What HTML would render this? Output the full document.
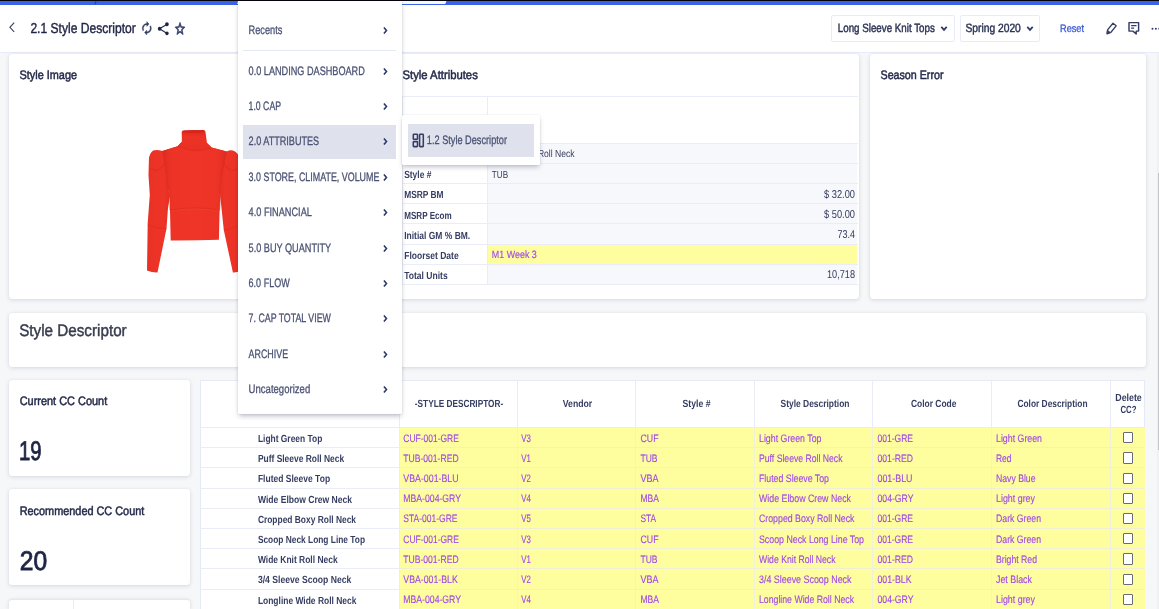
<!DOCTYPE html>
<html><head><meta charset="utf-8"><title>2.1 Style Descriptor</title>
<style>
html,body{margin:0;padding:0}
html{width:1159px;height:609px;overflow:hidden}
body{width:1159px;height:609px;overflow:hidden;position:relative;background:#f6f7f9;font-family:"Liberation Sans",sans-serif;text-rendering:geometricPrecision;}
body>div,body>svg{position:absolute;box-sizing:border-box}
svg.tx{left:0;top:0;pointer-events:none;will-change:transform;font-family:"Liberation Sans",sans-serif;text-rendering:geometricPrecision}
.card{background:#fff;border-radius:3px;box-shadow:0 1px 4px rgba(40,45,70,.15),0 0 1px rgba(40,45,70,.12)}
</style></head><body>
<div style="left:0px;top:0px;width:1159px;height:4.8px;background:#3a63e6"></div>
<div style="left:0px;top:0px;width:1159px;height:0.9px;background:#04050c"></div>
<svg style="left:93px;top:0" width="5" height="5" viewBox="0 0 5 5"><path d="M3.2 0.6 L2 4.4" stroke="#1a2350" stroke-width=".6"/></svg>
<div style="left:0px;top:4.8px;width:1159px;height:48.2px;background:#fff;border-bottom:1px solid #e9ebf8"></div>
<svg style="left:7px;top:20px" width="10" height="14" viewBox="0 0 10 14"><path d="M7.2 2.7 L2.9 7.3 L7.2 11.9" fill="none" stroke="#3a4164" stroke-width="1.1"/></svg>
<svg class="tx" width="1159" height="609" viewBox="0 0 1159 609"><text x="30.40" y="33.00" font-size="14.5" fill="#1e2444" textLength="105.40" lengthAdjust="spacingAndGlyphs" stroke="#1e2444" stroke-width="0.42">2.1 Style Descriptor</text></svg>
<svg style="left:140.1px;top:21.2px" width="13.6" height="14.6" viewBox="0 0 24 24" preserveAspectRatio="none"><path fill="#323b64" stroke="#323b64" stroke-width=".6" d="M12 6v3l4-4-4-4v3c-4.42 0-8 3.58-8 8 0 1.57.46 3.03 1.24 4.26L6.7 14.8c-.45-.83-.7-1.79-.7-2.8 0-3.31 2.69-6 6-6zm6.76 1.74L17.3 9.2c.44.84.7 1.79.7 2.8 0 3.31-2.69 6-6 6v-3l-4 4 4 4v-3c4.42 0 8-3.58 8-8 0-1.57-.46-3.03-1.24-4.26z"/></svg>
<svg style="left:156.2px;top:20.7px" width="14.6" height="15.6" viewBox="0 0 24 24" preserveAspectRatio="none"><path fill="#1e2444" d="M18 16.08c-.76 0-1.44.3-1.96.77L8.91 12.7c.05-.23.09-.46.09-.7s-.04-.47-.09-.7l7.05-4.11c.54.5 1.25.81 2.04.81 1.66 0 3-1.34 3-3s-1.34-3-3-3-3 1.34-3 3c0 .24.04.47.09.7L8.04 9.81C7.5 9.31 6.79 9 6 9c-1.66 0-3 1.34-3 3s1.34 3 3 3c.79 0 1.5-.31 2.04-.81l7.12 4.16c-.05.21-.08.43-.08.65 0 1.61 1.31 2.92 2.92 2.92 1.61 0 2.92-1.31 2.92-2.92s-1.31-2.92-2.92-2.92z"/></svg>
<svg style="left:174px;top:21.1px" width="12" height="15.6" viewBox="0 0 24 24" preserveAspectRatio="none"><path fill="#323b64" stroke="#323b64" stroke-width="1.1" d="M22 9.24l-7.19-.62L12 2 9.19 8.63 2 9.24l5.46 4.73L5.82 21 12 17.27 18.18 21l-1.63-7.03L22 9.24zM12 15.4l-3.76 2.27 1-4.28-3.32-2.88 4.38-.38L12 6.1l1.71 4.04 4.38.38-3.32 2.88 1 4.28L12 15.4z"/></svg>
<div style="left:831px;top:15.2px;width:123.5px;height:26.5px;background:#fff;border:1px solid #e9ecf8;border-radius:2px"></div>
<svg class="tx" width="1159" height="609" viewBox="0 0 1159 609"><text x="837.80" y="32.00" font-size="12" fill="#2c3355" textLength="97.00" lengthAdjust="spacingAndGlyphs" stroke="#2c3355" stroke-width="0.45">Long Sleeve Knit Tops</text></svg>
<svg style="left:940.4px;top:25.4px" width="8" height="7" viewBox="0 0 8 7"><path d="M1.3 1.9 L4 4.9 L6.7 1.9" fill="none" stroke="#2e3868" stroke-width="1.7"/></svg>
<div style="left:960.4px;top:15.2px;width:79.6px;height:26.5px;background:#fff;border:1px solid #e9ecf8;border-radius:2px"></div>
<svg class="tx" width="1159" height="609" viewBox="0 0 1159 609"><text x="965.50" y="32.00" font-size="12" fill="#2c3355" textLength="55.30" lengthAdjust="spacingAndGlyphs" stroke="#2c3355" stroke-width="0.45">Spring 2020</text></svg>
<svg style="left:1025.6px;top:25.4px" width="8" height="7" viewBox="0 0 8 7"><path d="M1.3 1.9 L4 4.9 L6.7 1.9" fill="none" stroke="#2e3868" stroke-width="1.7"/></svg>
<svg class="tx" width="1159" height="609" viewBox="0 0 1159 609"><text x="1060.00" y="32.00" font-size="10.8" fill="#3d5bd9" textLength="24.00" lengthAdjust="spacingAndGlyphs" stroke="#3d5bd9" stroke-width="0.35">Reset</text></svg>
<svg style="left:1104px;top:21px" width="14" height="16" viewBox="0 0 14 16"><g transform="translate(7.1,7.8) rotate(39)" fill="none" stroke="#333c66" stroke-width="1.3" stroke-linejoin="round"><path d="M-2.05,-5.5 H2.05 V3.1 L0,6.5 L-2.05,3.1 Z"/><path d="M-1.8,3.4 L0,6.4 L1.8,3.4 Z" fill="#333c66" stroke-width=".7"/></g></svg>
<svg style="left:1127px;top:21px" width="14" height="15" viewBox="0 0 14 15"><path d="M2.0 1.6 H11.6 V10.1 H9.2 V13.0 L5.9 10.1 H2.0 Z" fill="none" stroke="#333c66" stroke-width="1.45" stroke-linejoin="round"/><path d="M4.1 4.7 H9.5 M4.1 7.2 H7.1" stroke="#333c66" stroke-width="1.25"/></svg>
<svg style="left:1150px;top:26px" width="9" height="6" viewBox="0 0 9 6"><circle cx="2.5" cy="2.7" r="1" fill="#333c66"/><circle cx="5.9" cy="2.7" r="1" fill="#333c66"/><circle cx="9.3" cy="2.7" r="1" fill="#333c66"/></svg>
<div class="card" style="left:9px;top:53.8px;width:376px;height:245.2px;"></div>
<svg class="tx" width="1159" height="609" viewBox="0 0 1159 609"><text x="19.50" y="78.80" font-size="12.3" fill="#242a49" textLength="57.50" lengthAdjust="spacingAndGlyphs" stroke="#242a49" stroke-width="0.5">Style Image</text></svg>
<div class="card" style="left:392px;top:53.8px;width:467px;height:245.2px;"></div>
<svg class="tx" width="1159" height="609" viewBox="0 0 1159 609"><text x="402.50" y="79.00" font-size="12.3" fill="#242a49" textLength="75.30" lengthAdjust="spacingAndGlyphs" stroke="#242a49" stroke-width="0.5">Style Attributes</text></svg>
<div class="card" style="left:870px;top:53.8px;width:276px;height:245.2px;"></div>
<svg class="tx" width="1159" height="609" viewBox="0 0 1159 609"><text x="880.50" y="78.80" font-size="12.3" fill="#242a49" textLength="63.00" lengthAdjust="spacingAndGlyphs" stroke="#242a49" stroke-width="0.5">Season Error</text></svg>
<div style="left:1157.2px;top:53px;width:1.8px;height:556px;background:#f0f1f3"></div>
<div style="left:1157.6px;top:173px;width:1.4px;height:277px;background:#c4c5c9"></div>
<div style="left:487.6px;top:143.4px;width:369.9px;height:141.1px;background:#f7f8fc"></div>
<div style="left:487.6px;top:244.1px;width:369.9px;height:20.299999999999983px;background:#fffe9e"></div>
<div style="left:402px;top:95.7px;width:455.5px;height:1px;background:#eaedf8"></div>
<div style="left:402px;top:142.9px;width:455.5px;height:1px;background:#eaedf8"></div>
<div style="left:402px;top:162.9px;width:455.5px;height:1px;background:#eaedf8"></div>
<div style="left:402px;top:183.0px;width:455.5px;height:1px;background:#eaedf8"></div>
<div style="left:402px;top:203.3px;width:455.5px;height:1px;background:#eaedf8"></div>
<div style="left:402px;top:223.4px;width:455.5px;height:1px;background:#eaedf8"></div>
<div style="left:402px;top:243.6px;width:455.5px;height:1px;background:#eaedf8"></div>
<div style="left:402px;top:263.9px;width:455.5px;height:1px;background:#eaedf8"></div>
<div style="left:402px;top:284.0px;width:455.5px;height:1px;background:#eaedf8"></div>
<div style="left:487.1px;top:96.2px;width:1px;height:188.3px;background:#eaedf8"></div>
<div style="left:401.5px;top:96.2px;width:1px;height:188.3px;background:#f0f2fa"></div>
<svg class="tx" width="1159" height="609" viewBox="0 0 1159 609"><text x="404.20" y="158.20" font-size="10.3" fill="#353d62" textLength="62.00" lengthAdjust="spacingAndGlyphs" font-weight="700">Style Description</text><text x="404.20" y="178.20" font-size="10.3" fill="#353d62" textLength="27.20" lengthAdjust="spacingAndGlyphs" font-weight="700">Style #</text><text x="404.20" y="198.30" font-size="10.3" fill="#353d62" textLength="39.40" lengthAdjust="spacingAndGlyphs" font-weight="700">MSRP BM</text><text x="404.20" y="218.60" font-size="10.3" fill="#353d62" textLength="47.50" lengthAdjust="spacingAndGlyphs" font-weight="700">MSRP Ecom</text><text x="404.20" y="238.70" font-size="10.3" fill="#353d62" textLength="66.00" lengthAdjust="spacingAndGlyphs" font-weight="700">Initial GM % BM.</text><text x="404.20" y="258.90" font-size="10.3" fill="#353d62" textLength="54.50" lengthAdjust="spacingAndGlyphs" font-weight="700">Floorset Date</text><text x="404.20" y="279.20" font-size="10.3" fill="#353d62" textLength="43.50" lengthAdjust="spacingAndGlyphs" font-weight="700">Total Units</text><text x="491.80" y="157.40" font-size="10.3" fill="#343b5c" textLength="82.80" lengthAdjust="spacingAndGlyphs">Puff Sleeve Roll Neck</text><text x="491.80" y="177.60" font-size="10.3" fill="#343b5c" textLength="16.30" lengthAdjust="spacingAndGlyphs">TUB</text><text x="824.00" y="197.60" font-size="11.4" fill="#343b5c" textLength="31.00" lengthAdjust="spacingAndGlyphs">$ 32.00</text><text x="824.00" y="217.60" font-size="11.4" fill="#343b5c" textLength="31.00" lengthAdjust="spacingAndGlyphs">$ 50.00</text><text x="837.50" y="237.80" font-size="11.4" fill="#343b5c" textLength="17.50" lengthAdjust="spacingAndGlyphs">73.4</text><text x="491.80" y="258.00" font-size="10.6" fill="#a049e8" textLength="45.00" lengthAdjust="spacingAndGlyphs" stroke="#a049e8" stroke-width="0.15">M1 Week 3</text><text x="827.00" y="278.20" font-size="11.4" fill="#343b5c" textLength="28.00" lengthAdjust="spacingAndGlyphs">10,718</text></svg>
<svg style="left:140px;top:125px" width="110" height="155" viewBox="140 125 110 155"><defs><linearGradient id="gb" x1="0" x2="1" y1="0" y2="0"><stop offset="0" stop-color="#e02a20"/><stop offset=".14" stop-color="#ec3326"/><stop offset=".5" stop-color="#ee3528"/><stop offset=".86" stop-color="#ec3326"/><stop offset="1" stop-color="#e02a20"/></linearGradient><linearGradient id="gs" x1="0" x2="1" y1="0" y2="0"><stop offset="0" stop-color="#ea3125"/><stop offset=".55" stop-color="#ed3427"/><stop offset="1" stop-color="#db281e"/></linearGradient><linearGradient id="gs2" x1="1" x2="0" y1="0" y2="0"><stop offset="0" stop-color="#ea3125"/><stop offset=".55" stop-color="#ed3427"/><stop offset="1" stop-color="#db281e"/></linearGradient><linearGradient id="gn" x1="0" x2="0" y1="0" y2="1"><stop offset="0" stop-color="#de271e"/><stop offset=".35" stop-color="#ec3326"/><stop offset="1" stop-color="#e93024"/></linearGradient></defs><path d="M177.5,146.3 L162.3,150.9 Q157,149.2 153.1,150.5 Q149.2,153.5 148.9,159.4 L148.5,175.2 L149.8,195 L147.7,222.9 L147,270.4 Q152,272.7 157.5,272.5 L166.5,228.5 L167.9,209 L170.2,195 L168.3,191 Z" fill="url(#gs)"/><path d="M211.6,147.6 L226.7,151.5 Q230,149.6 233,150.6 Q238.4,152.6 240,159.4 L240.6,175.2 L239.4,195 L241.3,222.9 L242,270.4 Q237,272.7 232.9,272.5 L223.8,230 L221.6,209 L220.1,195 L218.8,193.6 Z" fill="url(#gs2)"/><path d="M181.8,141.7 L177.5,146.3 L162.3,150.9 L168.3,191 L170,195 L170,210.4 L170.7,240.5 Q195,240.6 218.9,239.8 L219.6,210.4 L220.3,195 L218.8,193.6 L226.7,151.5 L211.6,147.6 L207,143 Z" fill="url(#gb)"/><path d="M181.7,132 Q181.8,130.3 184,130.2 L203.4,130.1 Q205.3,130.1 205.4,131.6 L207,143 L211.8,147.7 Q195,154.2 177.4,146.4 L181.9,141.7 Z" fill="url(#gn)"/><ellipse cx="193.6" cy="131.6" rx="10.6" ry="1.25" fill="#d3251a"/><path d="M178,146.6 Q195,153.6 211.4,147.9" fill="none" stroke="#d82c1c" stroke-width=".9" opacity=".75"/><path d="M170,210.4 Q194.6,205.2 219.6,210.4" fill="none" stroke="#d82c1c" stroke-width=".8" opacity=".8"/><path d="M170,211.4 Q194.6,206.4 219.6,211.4" fill="none" stroke="#f6523c" stroke-width=".5" opacity=".6"/><path d="M147.7,225 Q157,228.8 166.6,228.5" fill="none" stroke="#d82c1c" stroke-width=".7" opacity=".8"/><path d="M223.8,230 Q232,229.6 241.2,224.6" fill="none" stroke="#d82c1c" stroke-width=".7" opacity=".8"/><path d="M163,151.5 Q166.8,170 168.4,191 L170,195 L170,210" fill="none" stroke="#d9301e" stroke-width=".9" opacity=".8"/><path d="M226,152 Q221.4,172 218.9,193.4 L220.2,195 L219.6,210" fill="none" stroke="#d9301e" stroke-width=".9" opacity=".8"/><path d="M150.4,168 Q157,174.5 165.4,163.2" fill="none" stroke="#d42a1c" stroke-width="1.2" opacity=".45"/><path d="M238,168 Q231.5,174.5 223.6,163.2" fill="none" stroke="#d42a1c" stroke-width="1.2" opacity=".45"/></svg>
<div class="card" style="left:9px;top:312.5px;width:1137px;height:54px;"></div>
<svg class="tx" width="1159" height="609" viewBox="0 0 1159 609"><text x="19.20" y="335.70" font-size="16.7" fill="#373d4e" textLength="107.50" lengthAdjust="spacingAndGlyphs" stroke="#373d4e" stroke-width="0.45">Style Descriptor</text></svg>
<div class="card" style="left:9px;top:380px;width:180.6px;height:95.5px;"></div>
<svg class="tx" width="1159" height="609" viewBox="0 0 1159 609"><text x="19.70" y="405.20" font-size="12.3" fill="#242a49" textLength="87.50" lengthAdjust="spacingAndGlyphs" stroke="#242a49" stroke-width="0.5">Current CC Count</text><text x="18.90" y="460.20" font-size="27" fill="#1e2444" textLength="22.60" lengthAdjust="spacingAndGlyphs" stroke="#1e2444" stroke-width="0.85">19</text></svg>
<div class="card" style="left:9px;top:489.1px;width:180.6px;height:96.4px;"></div>
<svg class="tx" width="1159" height="609" viewBox="0 0 1159 609"><text x="19.70" y="514.70" font-size="12.3" fill="#242a49" textLength="124.60" lengthAdjust="spacingAndGlyphs" stroke="#242a49" stroke-width="0.5">Recommended CC Count</text><text x="19.70" y="570.00" font-size="27" fill="#1e2444" textLength="27.40" lengthAdjust="spacingAndGlyphs" stroke="#1e2444" stroke-width="0.85">20</text></svg>
<div class="card" style="left:9px;top:599px;width:180.6px;height:10px;border-top:1px solid #e4e8f6;border-radius:3px 3px 0 0"></div>
<div style="left:73px;top:599px;width:1px;height:10px;background:#eaedf8"></div>
<div style="left:199.5px;top:380px;width:945.5999999999999px;height:229px;background:#fff;border:1px solid #e6e9f7;border-bottom:0"></div>
<div style="left:399px;top:427.4px;width:745.5999999999999px;height:181.60000000000002px;background:#fffe9e"></div>
<div style="left:200px;top:426.9px;width:199px;height:1px;background:#eaedf8"></div>
<div style="left:399px;top:426.9px;width:745.5999999999999px;height:1px;background:#eeefd6"></div>
<div style="left:200px;top:447.09999999999997px;width:199px;height:1px;background:#eaedf8"></div>
<div style="left:399px;top:447.09999999999997px;width:745.5999999999999px;height:1px;background:#eeefd6"></div>
<div style="left:200px;top:467.29999999999995px;width:199px;height:1px;background:#eaedf8"></div>
<div style="left:399px;top:467.29999999999995px;width:745.5999999999999px;height:1px;background:#eeefd6"></div>
<div style="left:200px;top:487.5px;width:199px;height:1px;background:#eaedf8"></div>
<div style="left:399px;top:487.5px;width:745.5999999999999px;height:1px;background:#eeefd6"></div>
<div style="left:200px;top:507.7px;width:199px;height:1px;background:#eaedf8"></div>
<div style="left:399px;top:507.7px;width:745.5999999999999px;height:1px;background:#eeefd6"></div>
<div style="left:200px;top:527.9px;width:199px;height:1px;background:#eaedf8"></div>
<div style="left:399px;top:527.9px;width:745.5999999999999px;height:1px;background:#eeefd6"></div>
<div style="left:200px;top:548.0999999999999px;width:199px;height:1px;background:#eaedf8"></div>
<div style="left:399px;top:548.0999999999999px;width:745.5999999999999px;height:1px;background:#eeefd6"></div>
<div style="left:200px;top:568.3px;width:199px;height:1px;background:#eaedf8"></div>
<div style="left:399px;top:568.3px;width:745.5999999999999px;height:1px;background:#eeefd6"></div>
<div style="left:200px;top:588.5px;width:199px;height:1px;background:#eaedf8"></div>
<div style="left:399px;top:588.5px;width:745.5999999999999px;height:1px;background:#eeefd6"></div>
<div style="left:200px;top:426.9px;width:944.5999999999999px;height:1px;background:#eaedf8"></div>
<div style="left:398.5px;top:381px;width:1px;height:46.39999999999998px;background:#eaedf8"></div>
<div style="left:398.5px;top:427.4px;width:1px;height:181.60000000000002px;background:#f0f1da"></div>
<div style="left:516.8px;top:381px;width:1px;height:46.39999999999998px;background:#eaedf8"></div>
<div style="left:516.8px;top:427.4px;width:1px;height:181.60000000000002px;background:#f0f1da"></div>
<div style="left:635.4px;top:381px;width:1px;height:46.39999999999998px;background:#eaedf8"></div>
<div style="left:635.4px;top:427.4px;width:1px;height:181.60000000000002px;background:#f0f1da"></div>
<div style="left:753.9px;top:381px;width:1px;height:46.39999999999998px;background:#eaedf8"></div>
<div style="left:753.9px;top:427.4px;width:1px;height:181.60000000000002px;background:#f0f1da"></div>
<div style="left:872.4px;top:381px;width:1px;height:46.39999999999998px;background:#eaedf8"></div>
<div style="left:872.4px;top:427.4px;width:1px;height:181.60000000000002px;background:#f0f1da"></div>
<div style="left:990.7px;top:381px;width:1px;height:46.39999999999998px;background:#eaedf8"></div>
<div style="left:990.7px;top:427.4px;width:1px;height:181.60000000000002px;background:#f0f1da"></div>
<div style="left:1109.8px;top:381px;width:1px;height:46.39999999999998px;background:#eaedf8"></div>
<div style="left:1109.8px;top:427.4px;width:1px;height:181.60000000000002px;background:#f0f1da"></div>
<div style="left:398.5px;top:427.4px;width:1px;height:181.60000000000002px;background:#eaedf8"></div>
<svg class="tx" width="1159" height="609" viewBox="0 0 1159 609"><text x="414.85" y="406.60" font-size="10.3" fill="#353d62" textLength="88.30" lengthAdjust="spacingAndGlyphs" font-weight="700">-STYLE DESCRIPTOR-</text><text x="562.75" y="406.60" font-size="10.3" fill="#353d62" textLength="29.50" lengthAdjust="spacingAndGlyphs" font-weight="700">Vendor</text><text x="682.50" y="406.60" font-size="10.3" fill="#353d62" textLength="28.00" lengthAdjust="spacingAndGlyphs" font-weight="700">Style #</text><text x="780.50" y="406.60" font-size="10.3" fill="#353d62" textLength="69.00" lengthAdjust="spacingAndGlyphs" font-weight="700">Style Description</text><text x="910.95" y="406.60" font-size="10.3" fill="#353d62" textLength="45.50" lengthAdjust="spacingAndGlyphs" font-weight="700">Color Code</text><text x="1017.50" y="406.60" font-size="10.3" fill="#353d62" textLength="70.00" lengthAdjust="spacingAndGlyphs" font-weight="700">Color Description</text><text x="1115.25" y="401.30" font-size="10.3" fill="#353d62" textLength="26.50" lengthAdjust="spacingAndGlyphs" font-weight="700">Delete</text><text x="1120.40" y="413.00" font-size="10.3" fill="#353d62" textLength="16.00" lengthAdjust="spacingAndGlyphs" font-weight="700">CC?</text><text x="257.90" y="442.00" font-size="10.3" fill="#353d62" textLength="64.40" lengthAdjust="spacingAndGlyphs" font-weight="700">Light Green Top</text><text x="403.30" y="441.60" font-size="10.8" fill="#a049e8" textLength="55.50" lengthAdjust="spacingAndGlyphs" stroke="#a049e8" stroke-width="0.15">CUF-001-GRE</text><text x="521.20" y="441.60" font-size="10.8" fill="#a049e8" textLength="9.60" lengthAdjust="spacingAndGlyphs" stroke="#a049e8" stroke-width="0.15">V3</text><text x="640.50" y="441.60" font-size="10.8" fill="#a049e8" textLength="18.00" lengthAdjust="spacingAndGlyphs" stroke="#a049e8" stroke-width="0.15">CUF</text><text x="759.00" y="441.60" font-size="10.8" fill="#a049e8" textLength="62.50" lengthAdjust="spacingAndGlyphs" stroke="#a049e8" stroke-width="0.15">Light Green Top</text><text x="877.50" y="441.60" font-size="10.8" fill="#a049e8" textLength="35.50" lengthAdjust="spacingAndGlyphs" stroke="#a049e8" stroke-width="0.15">001-GRE</text><text x="996.00" y="441.60" font-size="10.8" fill="#a049e8" textLength="46.00" lengthAdjust="spacingAndGlyphs" stroke="#a049e8" stroke-width="0.15">Light Green</text></svg>
<div style="left:1123.2px;top:432.1px;width:9.8px;height:11.4px;background:#fff;border:1px solid #686a74;border-radius:1px"></div>
<svg class="tx" width="1159" height="609" viewBox="0 0 1159 609"><text x="257.90" y="462.20" font-size="10.3" fill="#353d62" textLength="86.30" lengthAdjust="spacingAndGlyphs" font-weight="700">Puff Sleeve Roll Neck</text><text x="403.30" y="461.80" font-size="10.8" fill="#a049e8" textLength="55.30" lengthAdjust="spacingAndGlyphs" stroke="#a049e8" stroke-width="0.15">TUB-001-RED</text><text x="521.20" y="461.80" font-size="10.8" fill="#a049e8" textLength="9.60" lengthAdjust="spacingAndGlyphs" stroke="#a049e8" stroke-width="0.15">V1</text><text x="640.50" y="461.80" font-size="10.8" fill="#a049e8" textLength="17.00" lengthAdjust="spacingAndGlyphs" stroke="#a049e8" stroke-width="0.15">TUB</text><text x="759.00" y="461.80" font-size="10.8" fill="#a049e8" textLength="83.50" lengthAdjust="spacingAndGlyphs" stroke="#a049e8" stroke-width="0.15">Puff Sleeve Roll Neck</text><text x="877.50" y="461.80" font-size="10.8" fill="#a049e8" textLength="35.50" lengthAdjust="spacingAndGlyphs" stroke="#a049e8" stroke-width="0.15">001-RED</text><text x="996.00" y="461.80" font-size="10.8" fill="#a049e8" textLength="15.50" lengthAdjust="spacingAndGlyphs" stroke="#a049e8" stroke-width="0.15">Red</text></svg>
<div style="left:1123.2px;top:452.3px;width:9.8px;height:11.4px;background:#fff;border:1px solid #686a74;border-radius:1px"></div>
<svg class="tx" width="1159" height="609" viewBox="0 0 1159 609"><text x="257.90" y="482.40" font-size="10.3" fill="#353d62" textLength="72.20" lengthAdjust="spacingAndGlyphs" font-weight="700">Fluted Sleeve Top</text><text x="403.30" y="482.00" font-size="10.8" fill="#a049e8" textLength="55.30" lengthAdjust="spacingAndGlyphs" stroke="#a049e8" stroke-width="0.15">VBA-001-BLU</text><text x="521.20" y="482.00" font-size="10.8" fill="#a049e8" textLength="9.60" lengthAdjust="spacingAndGlyphs" stroke="#a049e8" stroke-width="0.15">V2</text><text x="640.50" y="482.00" font-size="10.8" fill="#a049e8" textLength="18.00" lengthAdjust="spacingAndGlyphs" stroke="#a049e8" stroke-width="0.15">VBA</text><text x="759.00" y="482.00" font-size="10.8" fill="#a049e8" textLength="70.00" lengthAdjust="spacingAndGlyphs" stroke="#a049e8" stroke-width="0.15">Fluted Sleeve Top</text><text x="877.50" y="482.00" font-size="10.8" fill="#a049e8" textLength="35.00" lengthAdjust="spacingAndGlyphs" stroke="#a049e8" stroke-width="0.15">001-BLU</text><text x="996.00" y="482.00" font-size="10.8" fill="#a049e8" textLength="39.50" lengthAdjust="spacingAndGlyphs" stroke="#a049e8" stroke-width="0.15">Navy Blue</text></svg>
<div style="left:1123.2px;top:472.5px;width:9.8px;height:11.4px;background:#fff;border:1px solid #686a74;border-radius:1px"></div>
<svg class="tx" width="1159" height="609" viewBox="0 0 1159 609"><text x="257.90" y="502.60" font-size="10.3" fill="#353d62" textLength="94.20" lengthAdjust="spacingAndGlyphs" font-weight="700">Wide Elbow Crew Neck</text><text x="403.30" y="502.20" font-size="10.8" fill="#a049e8" textLength="57.70" lengthAdjust="spacingAndGlyphs" stroke="#a049e8" stroke-width="0.15">MBA-004-GRY</text><text x="521.20" y="502.20" font-size="10.8" fill="#a049e8" textLength="9.60" lengthAdjust="spacingAndGlyphs" stroke="#a049e8" stroke-width="0.15">V4</text><text x="640.50" y="502.20" font-size="10.8" fill="#a049e8" textLength="18.50" lengthAdjust="spacingAndGlyphs" stroke="#a049e8" stroke-width="0.15">MBA</text><text x="759.00" y="502.20" font-size="10.8" fill="#a049e8" textLength="92.00" lengthAdjust="spacingAndGlyphs" stroke="#a049e8" stroke-width="0.15">Wide Elbow Crew Neck</text><text x="877.50" y="502.20" font-size="10.8" fill="#a049e8" textLength="36.00" lengthAdjust="spacingAndGlyphs" stroke="#a049e8" stroke-width="0.15">004-GRY</text><text x="996.00" y="502.20" font-size="10.8" fill="#a049e8" textLength="39.00" lengthAdjust="spacingAndGlyphs" stroke="#a049e8" stroke-width="0.15">Light grey</text></svg>
<div style="left:1123.2px;top:492.70000000000005px;width:9.8px;height:11.4px;background:#fff;border:1px solid #686a74;border-radius:1px"></div>
<svg class="tx" width="1159" height="609" viewBox="0 0 1159 609"><text x="257.90" y="522.80" font-size="10.3" fill="#353d62" textLength="98.10" lengthAdjust="spacingAndGlyphs" font-weight="700">Cropped Boxy Roll Neck</text><text x="403.30" y="522.40" font-size="10.8" fill="#a049e8" textLength="54.20" lengthAdjust="spacingAndGlyphs" stroke="#a049e8" stroke-width="0.15">STA-001-GRE</text><text x="521.20" y="522.40" font-size="10.8" fill="#a049e8" textLength="9.60" lengthAdjust="spacingAndGlyphs" stroke="#a049e8" stroke-width="0.15">V5</text><text x="640.50" y="522.40" font-size="10.8" fill="#a049e8" textLength="15.50" lengthAdjust="spacingAndGlyphs" stroke="#a049e8" stroke-width="0.15">STA</text><text x="759.00" y="522.40" font-size="10.8" fill="#a049e8" textLength="95.50" lengthAdjust="spacingAndGlyphs" stroke="#a049e8" stroke-width="0.15">Cropped Boxy Roll Neck</text><text x="877.50" y="522.40" font-size="10.8" fill="#a049e8" textLength="35.50" lengthAdjust="spacingAndGlyphs" stroke="#a049e8" stroke-width="0.15">001-GRE</text><text x="996.00" y="522.40" font-size="10.8" fill="#a049e8" textLength="45.00" lengthAdjust="spacingAndGlyphs" stroke="#a049e8" stroke-width="0.15">Dark Green</text></svg>
<div style="left:1123.2px;top:512.9px;width:9.8px;height:11.4px;background:#fff;border:1px solid #686a74;border-radius:1px"></div>
<svg class="tx" width="1159" height="609" viewBox="0 0 1159 609"><text x="257.90" y="543.00" font-size="10.3" fill="#353d62" textLength="107.10" lengthAdjust="spacingAndGlyphs" font-weight="700">Scoop Neck Long Line Top</text><text x="403.30" y="542.60" font-size="10.8" fill="#a049e8" textLength="55.50" lengthAdjust="spacingAndGlyphs" stroke="#a049e8" stroke-width="0.15">CUF-001-GRE</text><text x="521.20" y="542.60" font-size="10.8" fill="#a049e8" textLength="9.60" lengthAdjust="spacingAndGlyphs" stroke="#a049e8" stroke-width="0.15">V3</text><text x="640.50" y="542.60" font-size="10.8" fill="#a049e8" textLength="18.00" lengthAdjust="spacingAndGlyphs" stroke="#a049e8" stroke-width="0.15">CUF</text><text x="759.00" y="542.60" font-size="10.8" fill="#a049e8" textLength="105.00" lengthAdjust="spacingAndGlyphs" stroke="#a049e8" stroke-width="0.15">Scoop Neck Long Line Top</text><text x="877.50" y="542.60" font-size="10.8" fill="#a049e8" textLength="35.50" lengthAdjust="spacingAndGlyphs" stroke="#a049e8" stroke-width="0.15">001-GRE</text><text x="996.00" y="542.60" font-size="10.8" fill="#a049e8" textLength="45.00" lengthAdjust="spacingAndGlyphs" stroke="#a049e8" stroke-width="0.15">Dark Green</text></svg>
<div style="left:1123.2px;top:533.1px;width:9.8px;height:11.4px;background:#fff;border:1px solid #686a74;border-radius:1px"></div>
<svg class="tx" width="1159" height="609" viewBox="0 0 1159 609"><text x="257.90" y="563.20" font-size="10.3" fill="#353d62" textLength="79.70" lengthAdjust="spacingAndGlyphs" font-weight="700">Wide Knit Roll Neck</text><text x="403.30" y="562.80" font-size="10.8" fill="#a049e8" textLength="55.30" lengthAdjust="spacingAndGlyphs" stroke="#a049e8" stroke-width="0.15">TUB-001-RED</text><text x="521.20" y="562.80" font-size="10.8" fill="#a049e8" textLength="9.60" lengthAdjust="spacingAndGlyphs" stroke="#a049e8" stroke-width="0.15">V1</text><text x="640.50" y="562.80" font-size="10.8" fill="#a049e8" textLength="17.00" lengthAdjust="spacingAndGlyphs" stroke="#a049e8" stroke-width="0.15">TUB</text><text x="759.00" y="562.80" font-size="10.8" fill="#a049e8" textLength="76.50" lengthAdjust="spacingAndGlyphs" stroke="#a049e8" stroke-width="0.15">Wide Knit Roll Neck</text><text x="877.50" y="562.80" font-size="10.8" fill="#a049e8" textLength="35.50" lengthAdjust="spacingAndGlyphs" stroke="#a049e8" stroke-width="0.15">001-RED</text><text x="996.00" y="562.80" font-size="10.8" fill="#a049e8" textLength="41.00" lengthAdjust="spacingAndGlyphs" stroke="#a049e8" stroke-width="0.15">Bright Red</text></svg>
<div style="left:1123.2px;top:553.3px;width:9.8px;height:11.4px;background:#fff;border:1px solid #686a74;border-radius:1px"></div>
<svg class="tx" width="1159" height="609" viewBox="0 0 1159 609"><text x="257.90" y="583.40" font-size="10.3" fill="#353d62" textLength="93.40" lengthAdjust="spacingAndGlyphs" font-weight="700">3/4 Sleeve Scoop Neck</text><text x="403.30" y="583.00" font-size="10.8" fill="#a049e8" textLength="54.50" lengthAdjust="spacingAndGlyphs" stroke="#a049e8" stroke-width="0.15">VBA-001-BLK</text><text x="521.20" y="583.00" font-size="10.8" fill="#a049e8" textLength="9.60" lengthAdjust="spacingAndGlyphs" stroke="#a049e8" stroke-width="0.15">V2</text><text x="640.50" y="583.00" font-size="10.8" fill="#a049e8" textLength="18.00" lengthAdjust="spacingAndGlyphs" stroke="#a049e8" stroke-width="0.15">VBA</text><text x="759.00" y="583.00" font-size="10.8" fill="#a049e8" textLength="92.50" lengthAdjust="spacingAndGlyphs" stroke="#a049e8" stroke-width="0.15">3/4 Sleeve Scoop Neck</text><text x="877.50" y="583.00" font-size="10.8" fill="#a049e8" textLength="34.00" lengthAdjust="spacingAndGlyphs" stroke="#a049e8" stroke-width="0.15">001-BLK</text><text x="996.00" y="583.00" font-size="10.8" fill="#a049e8" textLength="36.00" lengthAdjust="spacingAndGlyphs" stroke="#a049e8" stroke-width="0.15">Jet Black</text></svg>
<div style="left:1123.2px;top:573.5px;width:9.8px;height:11.4px;background:#fff;border:1px solid #686a74;border-radius:1px"></div>
<svg class="tx" width="1159" height="609" viewBox="0 0 1159 609"><text x="257.90" y="603.60" font-size="10.3" fill="#353d62" textLength="98.50" lengthAdjust="spacingAndGlyphs" font-weight="700">Longline Wide Roll Neck</text><text x="403.30" y="603.20" font-size="10.8" fill="#a049e8" textLength="57.70" lengthAdjust="spacingAndGlyphs" stroke="#a049e8" stroke-width="0.15">MBA-004-GRY</text><text x="521.20" y="603.20" font-size="10.8" fill="#a049e8" textLength="9.60" lengthAdjust="spacingAndGlyphs" stroke="#a049e8" stroke-width="0.15">V4</text><text x="640.50" y="603.20" font-size="10.8" fill="#a049e8" textLength="18.50" lengthAdjust="spacingAndGlyphs" stroke="#a049e8" stroke-width="0.15">MBA</text><text x="759.00" y="603.20" font-size="10.8" fill="#a049e8" textLength="95.00" lengthAdjust="spacingAndGlyphs" stroke="#a049e8" stroke-width="0.15">Longline Wide Roll Neck</text><text x="877.50" y="603.20" font-size="10.8" fill="#a049e8" textLength="36.00" lengthAdjust="spacingAndGlyphs" stroke="#a049e8" stroke-width="0.15">004-GRY</text><text x="996.00" y="603.20" font-size="10.8" fill="#a049e8" textLength="39.00" lengthAdjust="spacingAndGlyphs" stroke="#a049e8" stroke-width="0.15">Light grey</text></svg>
<div style="left:1123.2px;top:593.7px;width:9.8px;height:11.4px;background:#fff;border:1px solid #686a74;border-radius:1px"></div>
<svg style="left:236px;top:0" width="212" height="4.4" viewBox="236 0 212 4.4"><path d="M238.2 0 L447 0 L445.4 4.4 L236.8 4.4 Z" fill="#f6f7fb"/></svg>
<div style="left:236px;top:0px;width:212px;height:0.9px;background:#04050c"></div>
<div style="left:237.6px;top:1px;width:164.20000000000002px;height:413.4px;background:#fff;border-radius:0 0 1.5px 1.5px;box-shadow:0 3px 5px -1px rgba(30,36,68,.30),0 0 2px rgba(30,36,68,.12)"></div>
<div style="left:243.4px;top:50.3px;width:153px;height:1px;background:#e4e8f6"></div>
<div style="left:243.2px;top:125.2px;width:152.8px;height:33.4px;background:#dfe1ec"></div>
<svg class="tx" width="1159" height="609" viewBox="0 0 1159 609"><text x="248.60" y="34.00" font-size="12.2" fill="#4a5274" textLength="33.80" lengthAdjust="spacingAndGlyphs" stroke="#4a5274" stroke-width="0.3">Recents</text></svg>
<svg style="left:381.7px;top:26.2px" width="7" height="9" viewBox="0 0 7 9"><path d="M1.9 1.4 L4.5 4.5 L1.9 7.6" fill="none" stroke="#2e3868" stroke-width="1.6"/></svg>
<svg class="tx" width="1159" height="609" viewBox="0 0 1159 609"><text x="248.60" y="75.00" font-size="12.2" fill="#4a5274" textLength="116.20" lengthAdjust="spacingAndGlyphs" stroke="#4a5274" stroke-width="0.3">0.0 LANDING DASHBOARD</text></svg>
<svg style="left:381.7px;top:67.2px" width="7" height="9" viewBox="0 0 7 9"><path d="M1.9 1.4 L4.5 4.5 L1.9 7.6" fill="none" stroke="#2e3868" stroke-width="1.6"/></svg>
<svg class="tx" width="1159" height="609" viewBox="0 0 1159 609"><text x="248.60" y="110.00" font-size="12.2" fill="#4a5274" textLength="32.40" lengthAdjust="spacingAndGlyphs" stroke="#4a5274" stroke-width="0.3">1.0 CAP</text></svg>
<svg style="left:381.7px;top:102.2px" width="7" height="9" viewBox="0 0 7 9"><path d="M1.9 1.4 L4.5 4.5 L1.9 7.6" fill="none" stroke="#2e3868" stroke-width="1.6"/></svg>
<svg class="tx" width="1159" height="609" viewBox="0 0 1159 609"><text x="248.60" y="145.00" font-size="12.2" fill="#4a5274" textLength="70.60" lengthAdjust="spacingAndGlyphs" stroke="#4a5274" stroke-width="0.3">2.0 ATTRIBUTES</text></svg>
<svg style="left:381.7px;top:137.2px" width="7" height="9" viewBox="0 0 7 9"><path d="M1.9 1.4 L4.5 4.5 L1.9 7.6" fill="none" stroke="#2e3868" stroke-width="1.6"/></svg>
<svg class="tx" width="1159" height="609" viewBox="0 0 1159 609"><text x="248.60" y="181.00" font-size="12.2" fill="#4a5274" textLength="130.80" lengthAdjust="spacingAndGlyphs" stroke="#4a5274" stroke-width="0.3">3.0 STORE, CLIMATE, VOLUME</text></svg>
<svg style="left:381.7px;top:173.2px" width="7" height="9" viewBox="0 0 7 9"><path d="M1.9 1.4 L4.5 4.5 L1.9 7.6" fill="none" stroke="#2e3868" stroke-width="1.6"/></svg>
<svg class="tx" width="1159" height="609" viewBox="0 0 1159 609"><text x="248.60" y="216.00" font-size="12.2" fill="#4a5274" textLength="63.30" lengthAdjust="spacingAndGlyphs" stroke="#4a5274" stroke-width="0.3">4.0 FINANCIAL</text></svg>
<svg style="left:381.7px;top:208.2px" width="7" height="9" viewBox="0 0 7 9"><path d="M1.9 1.4 L4.5 4.5 L1.9 7.6" fill="none" stroke="#2e3868" stroke-width="1.6"/></svg>
<svg class="tx" width="1159" height="609" viewBox="0 0 1159 609"><text x="248.60" y="252.00" font-size="12.2" fill="#4a5274" textLength="82.60" lengthAdjust="spacingAndGlyphs" stroke="#4a5274" stroke-width="0.3">5.0 BUY QUANTITY</text></svg>
<svg style="left:381.7px;top:244.2px" width="7" height="9" viewBox="0 0 7 9"><path d="M1.9 1.4 L4.5 4.5 L1.9 7.6" fill="none" stroke="#2e3868" stroke-width="1.6"/></svg>
<svg class="tx" width="1159" height="609" viewBox="0 0 1159 609"><text x="248.60" y="287.00" font-size="12.2" fill="#4a5274" textLength="41.10" lengthAdjust="spacingAndGlyphs" stroke="#4a5274" stroke-width="0.3">6.0 FLOW</text></svg>
<svg style="left:381.7px;top:279.2px" width="7" height="9" viewBox="0 0 7 9"><path d="M1.9 1.4 L4.5 4.5 L1.9 7.6" fill="none" stroke="#2e3868" stroke-width="1.6"/></svg>
<svg class="tx" width="1159" height="609" viewBox="0 0 1159 609"><text x="248.60" y="322.00" font-size="12.2" fill="#4a5274" textLength="82.30" lengthAdjust="spacingAndGlyphs" stroke="#4a5274" stroke-width="0.3">7. CAP TOTAL VIEW</text></svg>
<svg style="left:381.7px;top:314.2px" width="7" height="9" viewBox="0 0 7 9"><path d="M1.9 1.4 L4.5 4.5 L1.9 7.6" fill="none" stroke="#2e3868" stroke-width="1.6"/></svg>
<svg class="tx" width="1159" height="609" viewBox="0 0 1159 609"><text x="248.60" y="358.00" font-size="12.2" fill="#4a5274" textLength="39.50" lengthAdjust="spacingAndGlyphs" stroke="#4a5274" stroke-width="0.3">ARCHIVE</text></svg>
<svg style="left:381.7px;top:350.2px" width="7" height="9" viewBox="0 0 7 9"><path d="M1.9 1.4 L4.5 4.5 L1.9 7.6" fill="none" stroke="#2e3868" stroke-width="1.6"/></svg>
<svg class="tx" width="1159" height="609" viewBox="0 0 1159 609"><text x="248.60" y="393.00" font-size="12.2" fill="#4a5274" textLength="61.60" lengthAdjust="spacingAndGlyphs" stroke="#4a5274" stroke-width="0.3">Uncategorized</text></svg>
<svg style="left:381.7px;top:385.2px" width="7" height="9" viewBox="0 0 7 9"><path d="M1.9 1.4 L4.5 4.5 L1.9 7.6" fill="none" stroke="#2e3868" stroke-width="1.6"/></svg>
<div style="left:402.2px;top:114.6px;width:138px;height:50.6px;background:#fff;border-radius:1.5px;box-shadow:0 3px 5px -1px rgba(30,36,68,.28),0 0 2px rgba(30,36,68,.12)"></div>
<div style="left:407.8px;top:123.8px;width:126.4px;height:33.2px;background:#dfe1ec"></div>
<svg style="left:412.2px;top:132.6px" width="13" height="15" viewBox="0 0 13 15"><rect x="1.3" y="1.3" width="4.2" height="5" fill="none" stroke="#353d64" stroke-width="1.55" rx=".6"/><rect x="1.3" y="8.6" width="4.2" height="5" fill="none" stroke="#353d64" stroke-width="1.55" rx=".6"/><rect x="7.6" y="1.3" width="3.7" height="12.3" fill="none" stroke="#353d64" stroke-width="1.55" rx=".6"/></svg>
<svg class="tx" width="1159" height="609" viewBox="0 0 1159 609"><text x="426.80" y="144.00" font-size="12.2" fill="#4a5274" textLength="80.20" lengthAdjust="spacingAndGlyphs" stroke="#4a5274" stroke-width="0.3">1.2 Style Descriptor</text></svg>
</body></html>
